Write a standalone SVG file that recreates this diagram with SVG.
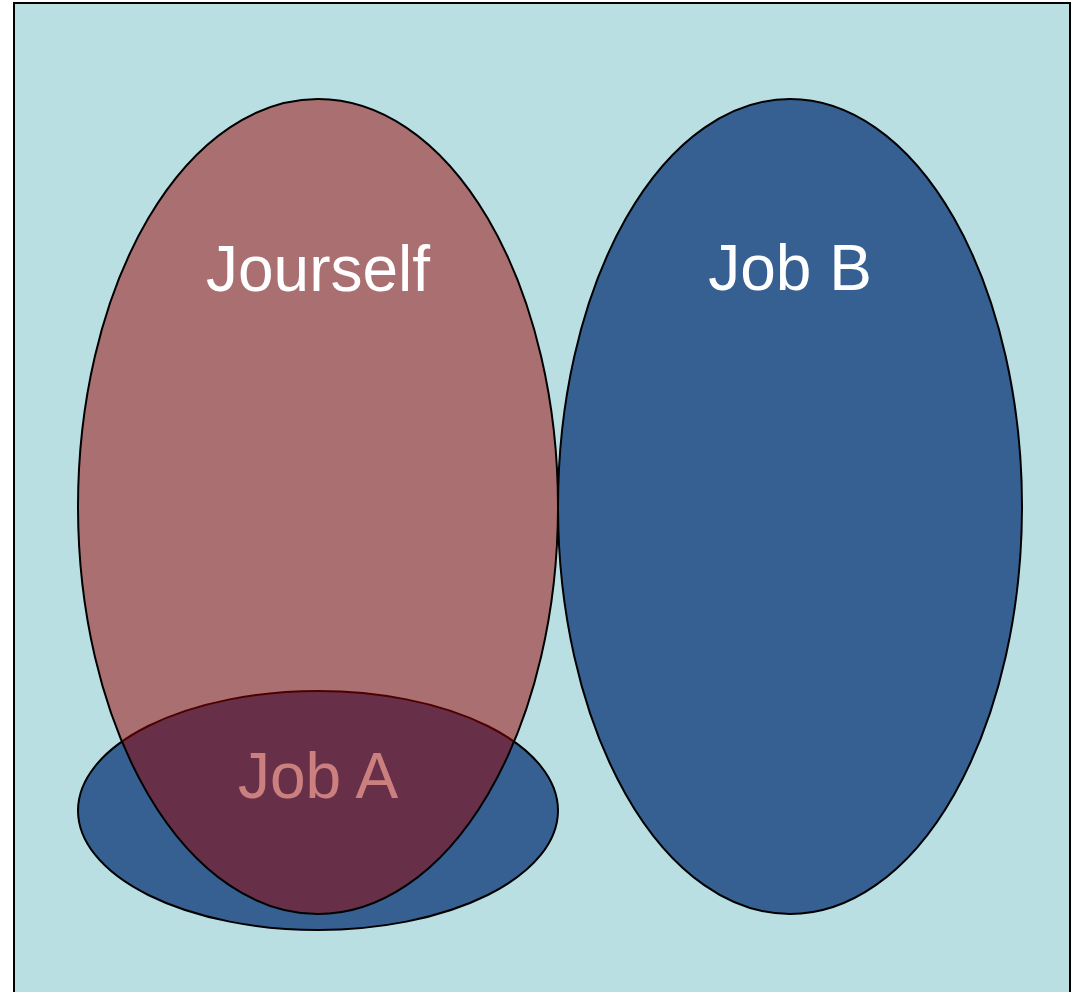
<svg xmlns="http://www.w3.org/2000/svg" width="1081" height="992" viewBox="0 0 1081 992">
<style>
.lbl{font-family:"Liberation Sans",Arial,sans-serif;font-size:64px;fill:#ffffff;text-anchor:middle}
.shape{stroke:#000000;stroke-width:2}
</style>
<rect x="14" y="3" width="1056" height="1000" fill="#b9dfe2" stroke="#000000" stroke-width="2"/>
<g id="jobA">
<ellipse class="shape" cx="318" cy="810.5" rx="240" ry="119.5" fill="#366091"/>
<text class="lbl" x="318" y="798">Job A</text>
</g>
<g id="jobB">
<ellipse class="shape" cx="790" cy="506.5" rx="232" ry="407.5" fill="#366091"/>
<text class="lbl" x="790" y="290">Job B</text>
</g>
<g id="jourself">
<ellipse class="shape" cx="318" cy="506.5" rx="240" ry="407.5" fill="#990000" fill-opacity="0.5"/>
<text class="lbl" x="318" y="291">Jourself</text>
</g>
<g id="connectors"/>
</svg>
